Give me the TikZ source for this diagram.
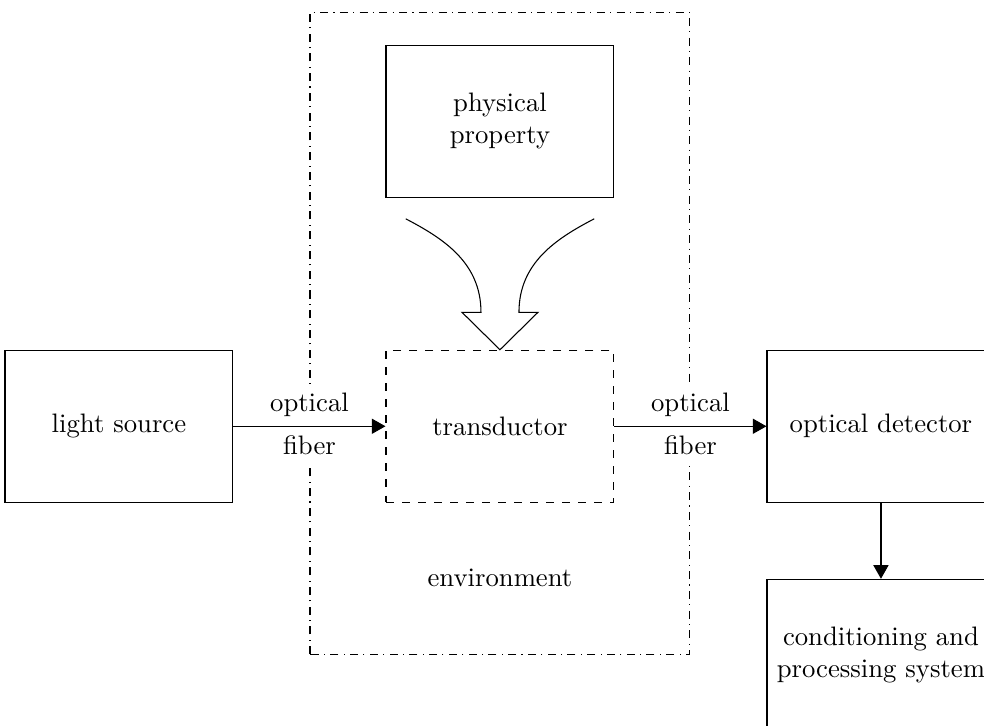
\documentclass[tikz,border=0pt]{standalone}
\usepackage{tikz}
\usetikzlibrary{positioning,arrows.meta}

\begin{document}
\begin{tikzpicture}[
  block/.style={draw, minimum width=3cm, minimum height=2cm, align=center},
  flow/.style={-{Triangle[length=1.8mm, width=2mm]}},
  fiberlabel/.style={fill=white}
]
  \useasboundingbox (-6.58,-3.94) rectangle (6.37,5.61);
  % environment
  \draw[dash dot] (-2.5,-3) rectangle (2.5,5.45);
  \node (env) at (0,-2) {environment};

  \node[block, dashed] (trans) at (0,0) {transductor};
  \node[block, left=2cm of trans] (src) {light source};
  \node[block, right=2cm of trans] (det) {optical detector};
  \node[block, below=1cm of det] (proc) {conditioning and\\processing system};
  \node[block, above=2cm of trans] (prop) {physical\\property};

  \draw[flow] (src) -- node[above, fiberlabel] {optical} node[below, fiberlabel] {fiber} (trans);
  \draw[flow] (trans) -- node[above, fiberlabel] {optical} node[below, fiberlabel] {fiber} (det);
  \draw[flow] (det) -- (proc);

  % big arrow
  \draw (-1.24,2.73) .. controls (-0.74,2.47) and (-0.25,2.15) .. (-0.25,1.5)
    -- (-0.5,1.5) -- (trans.north) -- (0.5,1.5) -- (0.25,1.5)
    .. controls (0.25,2.15) and (0.74,2.47) .. (1.24,2.73);
\end{tikzpicture}
\end{document}
